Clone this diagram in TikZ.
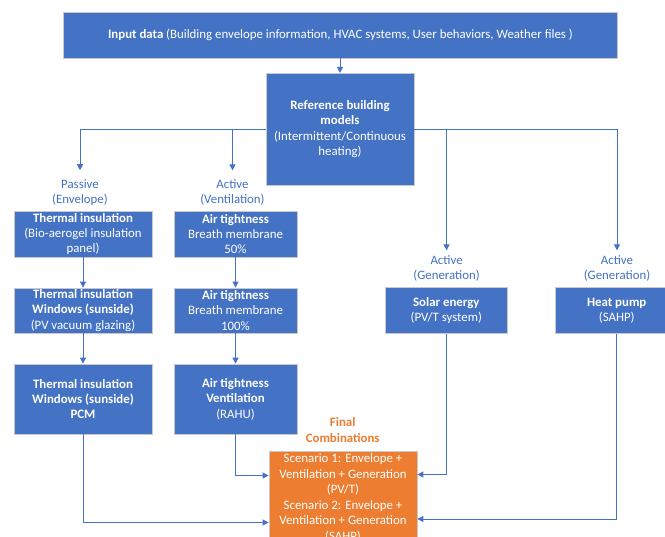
\documentclass[tikz,border=0pt]{standalone}
\usepackage{fontspec}
\setmainfont{Carlito}
\usetikzlibrary{arrows.meta,calc}
\definecolor{obl}{HTML}{4472C4}
\definecolor{oor}{HTML}{ED7D31}
\definecolor{brd}{HTML}{C9C9C9}
\begin{document}
\begin{tikzpicture}[x=1bp,y=-1bp,
  txt/.style={font=\fontsize{12.9}{15.5}\selectfont},
  box/.style={txt, draw=brd, line width=0.8bp, fill=obl, text=white, align=center, inner sep=0pt},
  obox/.style={box, fill=oor},
  lbl/.style={txt, text=obl, align=center, inner xsep=0pt},
  olbl/.style={txt, text=oor, align=center, inner sep=0pt},
  conn/.style={draw=obl, line width=0.9bp, -{Triangle[length=6bp,width=6bp]}}]
\useasboundingbox (0,0) rectangle (665,537);
\clip (0,0) rectangle (665,537);
\fill[white] (0,0) rectangle (665,537);

\node[box, minimum width=554bp, minimum height=45.3bp] (inp) at (340.4,35.3)
  {\textbf{Input data} (Building envelope information, HVAC systems, User behaviors, Weather files )};
\node[box, minimum width=148bp, minimum height=111.7bp] (ref) at (340,129.2)
  {\textbf{Reference building}\\\textbf{models}\\(Intermittent/Continuous\\heating)};

\node[lbl, inner ysep=9.0bp] (pas) at (80,192.6) {Passive\\(Envelope)};
\node[lbl, inner ysep=9.0bp] (ven) at (232.5,192.6) {Active\\(Ventilation)};
\node[lbl, inner ysep=5.0bp] (gen1) at (446.6,268.6) {Active\\(Generation)};
\node[lbl, inner ysep=5.0bp] (gen2) at (617,268.6) {Active\\(Generation)};

\node[box, minimum width=138bp, minimum height=46bp] (t1) at (83,234)
  {\textbf{Thermal insulation}\\(Bio-aerogel insulation\\panel)};
\node[box, minimum width=138bp, minimum height=45bp] (t2) at (83,310.5)
  {\textbf{Thermal insulation}\\\textbf{Windows (sunside)}\\(PV vacuum glazing)};
\node[box, minimum width=138bp, minimum height=70bp] (t3) at (83,399)
  {\textbf{Thermal insulation}\\\textbf{Windows (sunside)}\\\textbf{PCM}};

\node[box, minimum width=123bp, minimum height=46bp] (a1) at (235.5,234)
  {\textbf{Air tightness}\\Breath membrane\\50\%};
\node[box, minimum width=123bp, minimum height=45bp] (a2) at (235.5,310.5)
  {\textbf{Air tightness}\\Breath membrane\\100\%};
\node[box, minimum width=123bp, minimum height=70bp] (a3) at (235.5,399)
  {\textbf{Air tightness}\\\textbf{Ventilation}\\(RAHU)};

\node[box, minimum width=122bp, minimum height=45.6bp] (sol) at (446.3,310.5)
  {\textbf{Solar energy}\\(PV/T system)};
\node[box, minimum width=122bp, minimum height=45.6bp] (hp) at (616.7,310.5)
  {\textbf{Heat pump}\\(SAHP)};

\node[olbl] (fc) at (342.7,430) {\textbf{Final}\\\textbf{Combinations}};
\node[obox, minimum width=148bp, minimum height=94bp] (sc) at (343,498)
  {Scenario 1: Envelope +\\Ventilation + Generation\\(PV/T)\\Scenario 2: Envelope +\\Ventilation + Generation\\(SAHP)};

\draw[conn] (ref.north |- inp.south) -- (ref.north);
\draw[conn] (ref.west) -| (pas.north);
\draw[conn] (ref.west) -| (ven.north);
\draw[conn] (ref.east) -| (gen1.north);
\draw[conn] (ref.east) -| (gen2.north);
\draw[conn] (t1) -- (t2);
\draw[conn] (t2) -- (t3);
\draw[conn] (a1) -- (a2);
\draw[conn] (a2) -- (a3);
\draw[conn] (a3.south) |- ([yshift=22.5bp]sc.west);
\draw[conn] (t3.south) |- ([yshift=-24.5bp]sc.west);
\draw[conn] (sol.south) |- ([yshift=23.5bp]sc.east);
\draw[conn] (hp.south) |- ([yshift=-21bp]sc.east);
\end{tikzpicture}
\end{document}
